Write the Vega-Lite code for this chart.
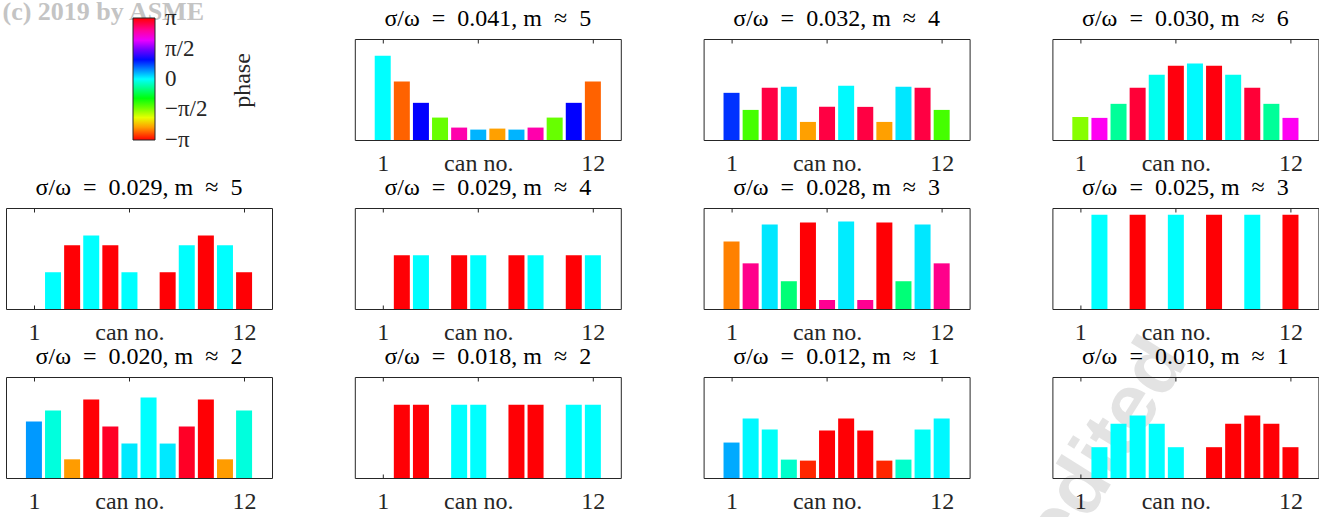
{
  "$schema": "https://vega.github.io/schema/vega-lite/v6.json",
  "background": "white",
  "padding": {"left": 2, "top": -2, "right": 0, "bottom": 0},
  "columns": 4,
  "spacing": {"row": 68, "column": 82.8},
  "bounds": "flush",
  "resolve": {"scale": {"color": "independent", "x": "independent", "y": "independent"}, "legend": {"color": "independent"}},
  "datasets": {
    "empty": [],
    "A": [
      {"can":1,"amp":0.834,"phase":0.0},{"can":2,"amp":0.579,"phase":-2.75},{"can":3,"amp":0.368,"phase":1.05},{"can":4,"amp":0.222,"phase":-1.47},
      {"can":5,"amp":0.123,"phase":2.44},{"can":6,"amp":0.103,"phase":0.31},{"can":7,"amp":0.113,"phase":-2.49},{"can":8,"amp":0.103,"phase":0.31},
      {"can":9,"amp":0.123,"phase":2.44},{"can":10,"amp":0.222,"phase":-1.47},{"can":11,"amp":0.368,"phase":1.05},{"can":12,"amp":0.579,"phase":-2.75}
    ],
    "B": [
      {"can":1,"amp":0.467,"phase":0.84},{"can":2,"amp":0.298,"phase":-1.33},{"can":3,"amp":0.517,"phase":2.88},{"can":4,"amp":0.526,"phase":0.1},
      {"can":5,"amp":0.179,"phase":-2.49},{"can":6,"amp":0.328,"phase":2.88},{"can":7,"amp":0.536,"phase":0.02},{"can":8,"amp":0.328,"phase":2.88},
      {"can":9,"amp":0.179,"phase":-2.49},{"can":10,"amp":0.526,"phase":0.1},{"can":11,"amp":0.517,"phase":2.88},{"can":12,"amp":0.298,"phase":-1.33}
    ],
    "C": [
      {"can":1,"amp":0.228,"phase":-1.6},{"can":2,"amp":0.219,"phase":2.15},{"can":3,"amp":0.358,"phase":-0.42},{"can":4,"amp":0.517,"phase":2.93},
      {"can":5,"amp":0.646,"phase":-0.06},{"can":6,"amp":0.735,"phase":3.1},{"can":7,"amp":0.758,"phase":0.02},{"can":8,"amp":0.735,"phase":3.1},
      {"can":9,"amp":0.646,"phase":-0.06},{"can":10,"amp":0.517,"phase":2.93},{"can":11,"amp":0.358,"phase":-0.42},{"can":12,"amp":0.219,"phase":2.15}
    ],
    "D": [
      {"can":1,"amp":0,"phase":0},{"can":2,"amp":0.364,"phase":0},{"can":3,"amp":0.63,"phase":3.14},{"can":4,"amp":0.728,"phase":0},
      {"can":5,"amp":0.63,"phase":3.14},{"can":6,"amp":0.364,"phase":0},{"can":7,"amp":0,"phase":0},{"can":8,"amp":0.364,"phase":3.14},
      {"can":9,"amp":0.63,"phase":0},{"can":10,"amp":0.728,"phase":3.14},{"can":11,"amp":0.63,"phase":0},{"can":12,"amp":0.364,"phase":3.14}
    ],
    "E": [
      {"can":1,"amp":0,"phase":0},{"can":2,"amp":0.531,"phase":3.14},{"can":3,"amp":0.531,"phase":0},{"can":4,"amp":0,"phase":0},
      {"can":5,"amp":0.531,"phase":3.14},{"can":6,"amp":0.531,"phase":0},{"can":7,"amp":0,"phase":0},{"can":8,"amp":0.531,"phase":3.14},
      {"can":9,"amp":0.531,"phase":0},{"can":10,"amp":0,"phase":0},{"can":11,"amp":0.531,"phase":3.14},{"can":12,"amp":0.531,"phase":0}
    ],
    "F": [
      {"can":1,"amp":0.669,"phase":-2.62},{"can":2,"amp":0.452,"phase":2.58},{"can":3,"amp":0.836,"phase":0.1},{"can":4,"amp":0.275,"phase":-0.56},
      {"can":5,"amp":0.856,"phase":3.14},{"can":6,"amp":0.089,"phase":2.55},{"can":7,"amp":0.866,"phase":0.08},{"can":8,"amp":0.089,"phase":2.55},
      {"can":9,"amp":0.856,"phase":3.14},{"can":10,"amp":0.275,"phase":-0.56},{"can":11,"amp":0.836,"phase":0.1},{"can":12,"amp":0.452,"phase":2.58}
    ],
    "G": [
      {"can":1,"amp":0,"phase":0},{"can":2,"amp":0.934,"phase":0},{"can":3,"amp":0,"phase":0},{"can":4,"amp":0.934,"phase":3.14},
      {"can":5,"amp":0,"phase":0},{"can":6,"amp":0.934,"phase":0},{"can":7,"amp":0,"phase":0},{"can":8,"amp":0.934,"phase":3.14},
      {"can":9,"amp":0,"phase":0},{"can":10,"amp":0.934,"phase":0},{"can":11,"amp":0,"phase":0},{"can":12,"amp":0.934,"phase":3.14}
    ],
    "H": [
      {"can":1,"amp":0.56,"phase":0.42},{"can":2,"amp":0.669,"phase":-0.14},{"can":3,"amp":0.185,"phase":-2.51},{"can":4,"amp":0.778,"phase":3.14},
      {"can":5,"amp":0.51,"phase":3.0},{"can":6,"amp":0.341,"phase":0.09},{"can":7,"amp":0.798,"phase":0.0},{"can":8,"amp":0.341,"phase":0.09},
      {"can":9,"amp":0.51,"phase":3.0},{"can":10,"amp":0.778,"phase":3.14},{"can":11,"amp":0.185,"phase":-2.51},{"can":12,"amp":0.669,"phase":-0.14}
    ],
    "I": [
      {"can":1,"amp":0,"phase":0},{"can":2,"amp":0.725,"phase":3.14},{"can":3,"amp":0.725,"phase":3.14},{"can":4,"amp":0,"phase":0},
      {"can":5,"amp":0.725,"phase":0},{"can":6,"amp":0.725,"phase":0},{"can":7,"amp":0,"phase":0},{"can":8,"amp":0.725,"phase":3.14},
      {"can":9,"amp":0.725,"phase":3.14},{"can":10,"amp":0,"phase":0},{"can":11,"amp":0.725,"phase":0},{"can":12,"amp":0.725,"phase":0}
    ],
    "J": [
      {"can":1,"amp":0.351,"phase":0.35},{"can":2,"amp":0.589,"phase":0.03},{"can":3,"amp":0.48,"phase":-0.03},{"can":4,"amp":0.182,"phase":-0.21},
      {"can":5,"amp":0.172,"phase":-3.0},{"can":6,"amp":0.47,"phase":3.14},{"can":7,"amp":0.589,"phase":3.14},{"can":8,"amp":0.47,"phase":3.14},
      {"can":9,"amp":0.172,"phase":-3.0},{"can":10,"amp":0.182,"phase":-0.21},{"can":11,"amp":0.48,"phase":-0.03},{"can":12,"amp":0.589,"phase":0.03}
    ],
    "K": [
      {"can":1,"amp":0,"phase":0},{"can":2,"amp":0.305,"phase":0},{"can":3,"amp":0.536,"phase":0},{"can":4,"amp":0.619,"phase":0},
      {"can":5,"amp":0.536,"phase":0},{"can":6,"amp":0.305,"phase":0},{"can":7,"amp":0,"phase":0},{"can":8,"amp":0.305,"phase":3.14},
      {"can":9,"amp":0.536,"phase":3.14},{"can":10,"amp":0.619,"phase":3.14},{"can":11,"amp":0.536,"phase":3.14},{"can":12,"amp":0.305,"phase":3.14}
    ]
  },
  "concat": [
    {
      "width": 266, "height": 101,
      "view": {"stroke": null},
      "data": {"name": "empty"},
      "mark": {"type": "bar", "size": 16},
      "encoding": {
        "x": {"field": "can", "type": "quantitative", "scale": {"domain": [0, 1], "nice": false},
              "axis": {"orient": "top", "labels": false, "ticks": false, "domain": false, "grid": false,
                       "title": "(c) 2019 by ASME", "titleX": -4, "titleY": -20, "titleAlign": "left", "titleAnchor": "start", "titleBaseline": "alphabetic",
                       "titleFont": "Liberation Serif", "titleFontSize": 26, "titleFontWeight": "bold", "titleColor": "#c4c4c4"}},
        "y": {"field": "amp", "type": "quantitative", "scale": {"domain": [0, 1], "nice": false},
              "axis": {"orient": "right", "title": "phase", "labels": false, "ticks": false, "domain": false, "grid": false,
                       "titleAngle": 270, "titleX": -30, "titleY": 41, "titleAlign": "center", "titleBaseline": "middle",
                       "titleFont": "Liberation Serif", "titleFontSize": 24, "titleFontWeight": "normal", "titleColor": "#262626"}},
        "color": {"field": "phase", "type": "quantitative",
                  "scale": {"type": "linear", "domain": [-3.16, -2.0944, -1.0472, 0, 1.0472, 2.0944, 3.16], "range": ["#ff0000", "#ffff00", "#00ff00", "#00ffff", "#0000ff", "#ff00ff", "#ff0000"], "interpolate": "rgb", "nice": false, "zero": false},
                  "legend": {"type": "gradient", "direction": "vertical", "orient": "none", "legendX": 127, "legendY": -21, "title": null,
                             "gradientLength": 122, "gradientThickness": 22, "gradientStrokeColor": "#262626", "gradientStrokeWidth": 1,
                             "values": [-3.1416, -1.5708, 0, 1.5708, 3.1416],
                             "labelExpr": "datum.value < -3 ? '−π' : datum.value < -1 ? '−π/2' : datum.value > 3 ? 'π' : datum.value > 1 ? 'π/2' : '0'",
                             "labelFont": "Liberation Serif", "labelFontSize": 23, "labelColor": "#262626", "labelOffset": 10, "labelOverlap": false, "padding": 0}}
      }
    },
    {"width": 266, "height": 101, "data": {"name": "A"}, "title": "σ/ω\u2002=\u20020.041, m\u2002≈\u20025", "resolve": {"axis": {"x": "independent"}},
     "layer": [
      {"mark": {"type": "bar", "size": 16},
       "encoding": {
        "x": {"field": "can", "type": "quantitative", "scale": {"domain": [-0.2, 13.2], "nice": false, "zero": false}, "axis": {"values": [1, 6, 12], "labelExpr": "datum.value == 6 ? 'can no.' : datum.label", "title": null}},
        "y": {"field": "amp", "type": "quantitative", "scale": {"domain": [0, 1], "nice": false}, "axis": null},
        "color": {"field": "phase", "type": "quantitative", "scale": {"type": "linear", "domain": [-3.16, -2.0944, -1.0472, 0, 1.0472, 2.0944, 3.16], "range": ["#ff0000", "#ffff00", "#00ff00", "#00ffff", "#0000ff", "#ff00ff", "#ff0000"], "interpolate": "rgb", "nice": false, "zero": false}, "legend": null}}},
      {"mark": {"type": "tick", "opacity": 0},
       "encoding": {"x": {"field": "can", "type": "quantitative", "axis": {"orient": "top", "values": [1, 6, 12], "labels": false, "title": null}}}}
     ]},
    {"width": 266, "height": 101, "data": {"name": "B"}, "title": "σ/ω\u2002=\u20020.032, m\u2002≈\u20024", "resolve": {"axis": {"x": "independent"}},
     "layer": [
      {"mark": {"type": "bar", "size": 16},
       "encoding": {
        "x": {"field": "can", "type": "quantitative", "scale": {"domain": [-0.2, 13.2], "nice": false, "zero": false}, "axis": {"values": [1, 6, 12], "labelExpr": "datum.value == 6 ? 'can no.' : datum.label", "title": null}},
        "y": {"field": "amp", "type": "quantitative", "scale": {"domain": [0, 1], "nice": false}, "axis": null},
        "color": {"field": "phase", "type": "quantitative", "scale": {"type": "linear", "domain": [-3.16, -2.0944, -1.0472, 0, 1.0472, 2.0944, 3.16], "range": ["#ff0000", "#ffff00", "#00ff00", "#00ffff", "#0000ff", "#ff00ff", "#ff0000"], "interpolate": "rgb", "nice": false, "zero": false}, "legend": null}}},
      {"mark": {"type": "tick", "opacity": 0},
       "encoding": {"x": {"field": "can", "type": "quantitative", "axis": {"orient": "top", "values": [1, 6, 12], "labels": false, "title": null}}}}
     ]},
    {"width": 266, "height": 101, "data": {"name": "C"}, "title": "σ/ω\u2002=\u20020.030, m\u2002≈\u20026", "resolve": {"axis": {"x": "independent"}},
     "layer": [
      {"mark": {"type": "bar", "size": 16},
       "encoding": {
        "x": {"field": "can", "type": "quantitative", "scale": {"domain": [-0.2, 13.2], "nice": false, "zero": false}, "axis": {"values": [1, 6, 12], "labelExpr": "datum.value == 6 ? 'can no.' : datum.label", "title": null}},
        "y": {"field": "amp", "type": "quantitative", "scale": {"domain": [0, 1], "nice": false}, "axis": null},
        "color": {"field": "phase", "type": "quantitative", "scale": {"type": "linear", "domain": [-3.16, -2.0944, -1.0472, 0, 1.0472, 2.0944, 3.16], "range": ["#ff0000", "#ffff00", "#00ff00", "#00ffff", "#0000ff", "#ff00ff", "#ff0000"], "interpolate": "rgb", "nice": false, "zero": false}, "legend": null}}},
      {"mark": {"type": "tick", "opacity": 0},
       "encoding": {"x": {"field": "can", "type": "quantitative", "axis": {"orient": "top", "values": [1, 6, 12], "labels": false, "title": null}}}}
     ]},
    {"width": 266, "height": 101, "data": {"name": "D"}, "title": "σ/ω\u2002=\u20020.029, m\u2002≈\u20025", "resolve": {"axis": {"x": "independent"}},
     "layer": [
      {"mark": {"type": "bar", "size": 16},
       "encoding": {
        "x": {"field": "can", "type": "quantitative", "scale": {"domain": [-0.2, 13.2], "nice": false, "zero": false}, "axis": {"values": [1, 6, 12], "labelExpr": "datum.value == 6 ? 'can no.' : datum.label", "title": null}},
        "y": {"field": "amp", "type": "quantitative", "scale": {"domain": [0, 1], "nice": false}, "axis": null},
        "color": {"field": "phase", "type": "quantitative", "scale": {"type": "linear", "domain": [-3.16, -2.0944, -1.0472, 0, 1.0472, 2.0944, 3.16], "range": ["#ff0000", "#ffff00", "#00ff00", "#00ffff", "#0000ff", "#ff00ff", "#ff0000"], "interpolate": "rgb", "nice": false, "zero": false}, "legend": null}}},
      {"mark": {"type": "tick", "opacity": 0},
       "encoding": {"x": {"field": "can", "type": "quantitative", "axis": {"orient": "top", "values": [1, 6, 12], "labels": false, "title": null}}}}
     ]},
    {"width": 266, "height": 101, "data": {"name": "E"}, "title": "σ/ω\u2002=\u20020.029, m\u2002≈\u20024", "resolve": {"axis": {"x": "independent"}},
     "layer": [
      {"mark": {"type": "bar", "size": 16},
       "encoding": {
        "x": {"field": "can", "type": "quantitative", "scale": {"domain": [-0.2, 13.2], "nice": false, "zero": false}, "axis": {"values": [1, 6, 12], "labelExpr": "datum.value == 6 ? 'can no.' : datum.label", "title": null}},
        "y": {"field": "amp", "type": "quantitative", "scale": {"domain": [0, 1], "nice": false}, "axis": null},
        "color": {"field": "phase", "type": "quantitative", "scale": {"type": "linear", "domain": [-3.16, -2.0944, -1.0472, 0, 1.0472, 2.0944, 3.16], "range": ["#ff0000", "#ffff00", "#00ff00", "#00ffff", "#0000ff", "#ff00ff", "#ff0000"], "interpolate": "rgb", "nice": false, "zero": false}, "legend": null}}},
      {"mark": {"type": "tick", "opacity": 0},
       "encoding": {"x": {"field": "can", "type": "quantitative", "axis": {"orient": "top", "values": [1, 6, 12], "labels": false, "title": null}}}}
     ]},
    {"width": 266, "height": 101, "data": {"name": "F"}, "title": "σ/ω\u2002=\u20020.028, m\u2002≈\u20023", "resolve": {"axis": {"x": "independent"}},
     "layer": [
      {"mark": {"type": "bar", "size": 16},
       "encoding": {
        "x": {"field": "can", "type": "quantitative", "scale": {"domain": [-0.2, 13.2], "nice": false, "zero": false}, "axis": {"values": [1, 6, 12], "labelExpr": "datum.value == 6 ? 'can no.' : datum.label", "title": null}},
        "y": {"field": "amp", "type": "quantitative", "scale": {"domain": [0, 1], "nice": false}, "axis": null},
        "color": {"field": "phase", "type": "quantitative", "scale": {"type": "linear", "domain": [-3.16, -2.0944, -1.0472, 0, 1.0472, 2.0944, 3.16], "range": ["#ff0000", "#ffff00", "#00ff00", "#00ffff", "#0000ff", "#ff00ff", "#ff0000"], "interpolate": "rgb", "nice": false, "zero": false}, "legend": null}}},
      {"mark": {"type": "tick", "opacity": 0},
       "encoding": {"x": {"field": "can", "type": "quantitative", "axis": {"orient": "top", "values": [1, 6, 12], "labels": false, "title": null}}}}
     ]},
    {"width": 266, "height": 101, "data": {"name": "G"}, "title": "σ/ω\u2002=\u20020.025, m\u2002≈\u20023", "resolve": {"axis": {"x": "independent"}},
     "layer": [
      {"mark": {"type": "bar", "size": 16},
       "encoding": {
        "x": {"field": "can", "type": "quantitative", "scale": {"domain": [-0.2, 13.2], "nice": false, "zero": false}, "axis": {"values": [1, 6, 12], "labelExpr": "datum.value == 6 ? 'can no.' : datum.label", "title": null}},
        "y": {"field": "amp", "type": "quantitative", "scale": {"domain": [0, 1], "nice": false}, "axis": null},
        "color": {"field": "phase", "type": "quantitative", "scale": {"type": "linear", "domain": [-3.16, -2.0944, -1.0472, 0, 1.0472, 2.0944, 3.16], "range": ["#ff0000", "#ffff00", "#00ff00", "#00ffff", "#0000ff", "#ff00ff", "#ff0000"], "interpolate": "rgb", "nice": false, "zero": false}, "legend": null}}},
      {"mark": {"type": "tick", "opacity": 0},
       "encoding": {"x": {"field": "can", "type": "quantitative", "axis": {"orient": "top", "values": [1, 6, 12], "labels": false, "zindex": 2,
                          "title": "Not Copyedited", "titleX": 136, "titleY": 151, "titleAngle": -58, "titleAlign": "right", "titleAnchor": null, "titleBaseline": "alphabetic",
                          "titleFont": "Liberation Sans", "titleFontSize": 80, "titleFontWeight": "bold", "titleColor": "#b8b8b8", "titleOpacity": 0.4}}}}
     ]},
    {"width": 266, "height": 101, "data": {"name": "H"}, "title": "σ/ω\u2002=\u20020.020, m\u2002≈\u20022", "resolve": {"axis": {"x": "independent"}},
     "layer": [
      {"mark": {"type": "bar", "size": 16},
       "encoding": {
        "x": {"field": "can", "type": "quantitative", "scale": {"domain": [-0.2, 13.2], "nice": false, "zero": false}, "axis": {"values": [1, 6, 12], "labelExpr": "datum.value == 6 ? 'can no.' : datum.label", "title": null}},
        "y": {"field": "amp", "type": "quantitative", "scale": {"domain": [0, 1], "nice": false}, "axis": null},
        "color": {"field": "phase", "type": "quantitative", "scale": {"type": "linear", "domain": [-3.16, -2.0944, -1.0472, 0, 1.0472, 2.0944, 3.16], "range": ["#ff0000", "#ffff00", "#00ff00", "#00ffff", "#0000ff", "#ff00ff", "#ff0000"], "interpolate": "rgb", "nice": false, "zero": false}, "legend": null}}},
      {"mark": {"type": "tick", "opacity": 0},
       "encoding": {"x": {"field": "can", "type": "quantitative", "axis": {"orient": "top", "values": [1, 6, 12], "labels": false, "title": null}}}}
     ]},
    {"width": 266, "height": 101, "data": {"name": "I"}, "title": "σ/ω\u2002=\u20020.018, m\u2002≈\u20022", "resolve": {"axis": {"x": "independent"}},
     "layer": [
      {"mark": {"type": "bar", "size": 16},
       "encoding": {
        "x": {"field": "can", "type": "quantitative", "scale": {"domain": [-0.2, 13.2], "nice": false, "zero": false}, "axis": {"values": [1, 6, 12], "labelExpr": "datum.value == 6 ? 'can no.' : datum.label", "title": null}},
        "y": {"field": "amp", "type": "quantitative", "scale": {"domain": [0, 1], "nice": false}, "axis": null},
        "color": {"field": "phase", "type": "quantitative", "scale": {"type": "linear", "domain": [-3.16, -2.0944, -1.0472, 0, 1.0472, 2.0944, 3.16], "range": ["#ff0000", "#ffff00", "#00ff00", "#00ffff", "#0000ff", "#ff00ff", "#ff0000"], "interpolate": "rgb", "nice": false, "zero": false}, "legend": null}}},
      {"mark": {"type": "tick", "opacity": 0},
       "encoding": {"x": {"field": "can", "type": "quantitative", "axis": {"orient": "top", "values": [1, 6, 12], "labels": false, "title": null}}}}
     ]},
    {"width": 266, "height": 101, "data": {"name": "J"}, "title": "σ/ω\u2002=\u20020.012, m\u2002≈\u20021", "resolve": {"axis": {"x": "independent"}},
     "layer": [
      {"mark": {"type": "bar", "size": 16},
       "encoding": {
        "x": {"field": "can", "type": "quantitative", "scale": {"domain": [-0.2, 13.2], "nice": false, "zero": false}, "axis": {"values": [1, 6, 12], "labelExpr": "datum.value == 6 ? 'can no.' : datum.label", "title": null}},
        "y": {"field": "amp", "type": "quantitative", "scale": {"domain": [0, 1], "nice": false}, "axis": null},
        "color": {"field": "phase", "type": "quantitative", "scale": {"type": "linear", "domain": [-3.16, -2.0944, -1.0472, 0, 1.0472, 2.0944, 3.16], "range": ["#ff0000", "#ffff00", "#00ff00", "#00ffff", "#0000ff", "#ff00ff", "#ff0000"], "interpolate": "rgb", "nice": false, "zero": false}, "legend": null}}},
      {"mark": {"type": "tick", "opacity": 0},
       "encoding": {"x": {"field": "can", "type": "quantitative", "axis": {"orient": "top", "values": [1, 6, 12], "labels": false, "title": null}}}}
     ]},
    {"width": 266, "height": 101, "data": {"name": "K"}, "title": "σ/ω\u2002=\u20020.010, m\u2002≈\u20021", "resolve": {"axis": {"x": "independent"}},
     "layer": [
      {"mark": {"type": "bar", "size": 16},
       "encoding": {
        "x": {"field": "can", "type": "quantitative", "scale": {"domain": [-0.2, 13.2], "nice": false, "zero": false}, "axis": {"values": [1, 6, 12], "labelExpr": "datum.value == 6 ? 'can no.' : datum.label", "title": null}},
        "y": {"field": "amp", "type": "quantitative", "scale": {"domain": [0, 1], "nice": false}, "axis": null},
        "color": {"field": "phase", "type": "quantitative", "scale": {"type": "linear", "domain": [-3.16, -2.0944, -1.0472, 0, 1.0472, 2.0944, 3.16], "range": ["#ff0000", "#ffff00", "#00ff00", "#00ffff", "#0000ff", "#ff00ff", "#ff0000"], "interpolate": "rgb", "nice": false, "zero": false}, "legend": null}}},
      {"mark": {"type": "tick", "opacity": 0},
       "encoding": {"x": {"field": "can", "type": "quantitative", "axis": {"orient": "top", "values": [1, 6, 12], "labels": false, "title": null}}}}
     ]}
  ],
  "config": {
    "font": "Liberation Serif",
    "view": {"stroke": "#262626", "strokeWidth": 1},
    "title": {"font": "Liberation Serif", "fontSize": 24, "fontWeight": "normal", "color": "#000000", "offset": 8, "baseline": "alphabetic"},
    "axisX": {"labelFont": "Liberation Serif", "labelFontSize": 24, "labelColor": "#262626", "domain": false, "grid": false, "ticks": true, "tickColor": "#262626", "tickSize": -4, "labelPadding": 15, "labelFlush": false, "labelOverlap": false, "labelBound": false}
  }
}
